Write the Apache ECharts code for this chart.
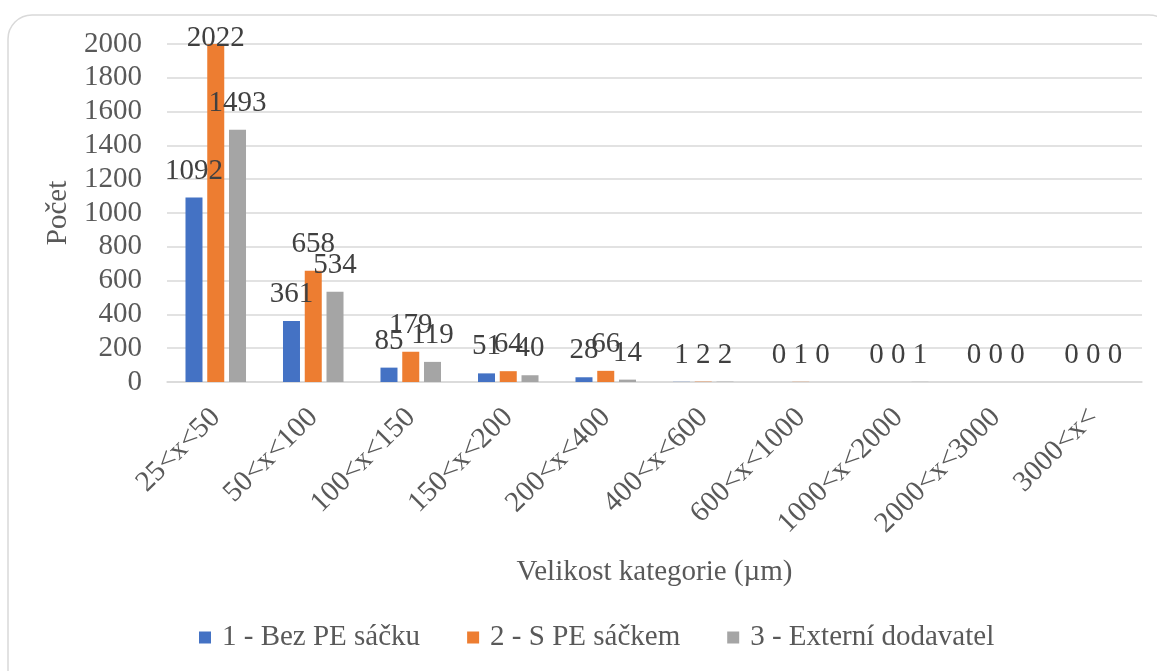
<!DOCTYPE html>
<html>
<head>
<meta charset="utf-8">
<script src="https://cdn.jsdelivr.net/npm/echarts@6/dist/echarts.min.js"></script>
<style>
  html, body { margin: 0; padding: 0; background: #fff; }
  #main { width: 1157px; height: 671px; }
</style>
</head>
<body>
<div id="main"></div>
<script>
// kategorie velikosti a pocty castic
var categories = ['25<x<50', '50<x<100', '100<x<150', '150<x<200', '200<x<400',
    '400<x<600', '600<x<1000', '1000<x<2000', '2000<x<3000', '3000<x<'];
var bezPE = [1092, 361, 85, 51, 28, 1, 0, 0, 0, 0];
var sPE = [2022, 658, 179, 64, 66, 2, 1, 0, 0, 0];
var externi = [1493, 534, 119, 40, 14, 2, 0, 1, 0, 0];
var seriesNames = ['1 - Bez PE sáčku', '2 - S PE sáčkem', '3 - Externí dodavatel'];
var colors = ['#4472C4', '#ED7D31', '#A5A5A5'];

var yMax = 2000;
var font = '"Liberation Serif", "Times New Roman", serif';
var fs = 29;

function makeSeries(name, data, color) {
    return {
        name: name,
        type: 'bar',
        // hodnoty nad max osy - popisek posunut dovnitr jako v Excelu
        data: data.map(function (v) {
            return v > yMax ? { value: v, label: { distance: -9 } } : v;
        }),
        barWidth: 17,
        barGap: '28%',
        itemStyle: { color: color },
        label: {
            show: true,
            position: 'top',
            distance: 12,
            color: '#404040',
            fontFamily: font,
            fontSize: fs
        }
    };
}

var chart = echarts.init(document.getElementById('main'));

chart.setOption({
    animation: false,
    textStyle: { fontFamily: font },
    graphic: [{
        type: 'rect',
        shape: { x: 8, y: 15, width: 1165, height: 690, r: 24 },
        style: { fill: 'none', stroke: '#d9d9d9', lineWidth: 1.5 },
        silent: true
    }],
    grid: {
        left: 167,
        right: 15,
        top: 44,
        bottom: 289
    },
    legend: {
        data: seriesNames,
        left: 194,
        top: 618,
        itemWidth: 12,
        itemHeight: 12,
        itemGap: 47,
        icon: 'rect',
        textStyle: { color: '#595959', fontFamily: font, fontSize: fs, padding: [0, 0, 0, 6] }
    },
    xAxis: {
        type: 'category',
        data: categories,
        name: 'Velikost kategorie (µm)',
        nameLocation: 'middle',
        nameGap: 176,
        nameTextStyle: { color: '#595959', fontFamily: font, fontSize: fs },
        axisLine: { lineStyle: { color: '#d9d9d9', width: 1.5 } },
        axisTick: { show: false },
        axisLabel: {
            rotate: 45,
            interval: 0,
            margin: 31,
            color: '#595959',
            fontFamily: font,
            fontSize: fs
        }
    },
    yAxis: {
        type: 'value',
        min: 0,
        max: yMax,
        interval: 200,
        name: 'Počet',
        nameLocation: 'middle',
        nameRotate: 90,
        nameGap: 92,
        nameTextStyle: { color: '#595959', fontFamily: font, fontSize: fs },
        axisLine: { show: false },
        axisTick: { show: false },
        axisLabel: {
            margin: 25,
            color: '#595959',
            fontFamily: font,
            fontSize: fs,
            formatter: function (v) { return String(v); }
        },
        splitLine: { lineStyle: { color: '#d9d9d9', width: 1.5 } }
    },
    series: [
        makeSeries(seriesNames[0], bezPE, colors[0]),
        makeSeries(seriesNames[1], sPE, colors[1]),
        makeSeries(seriesNames[2], externi, colors[2])
    ]
});
</script>
</body>
</html>
